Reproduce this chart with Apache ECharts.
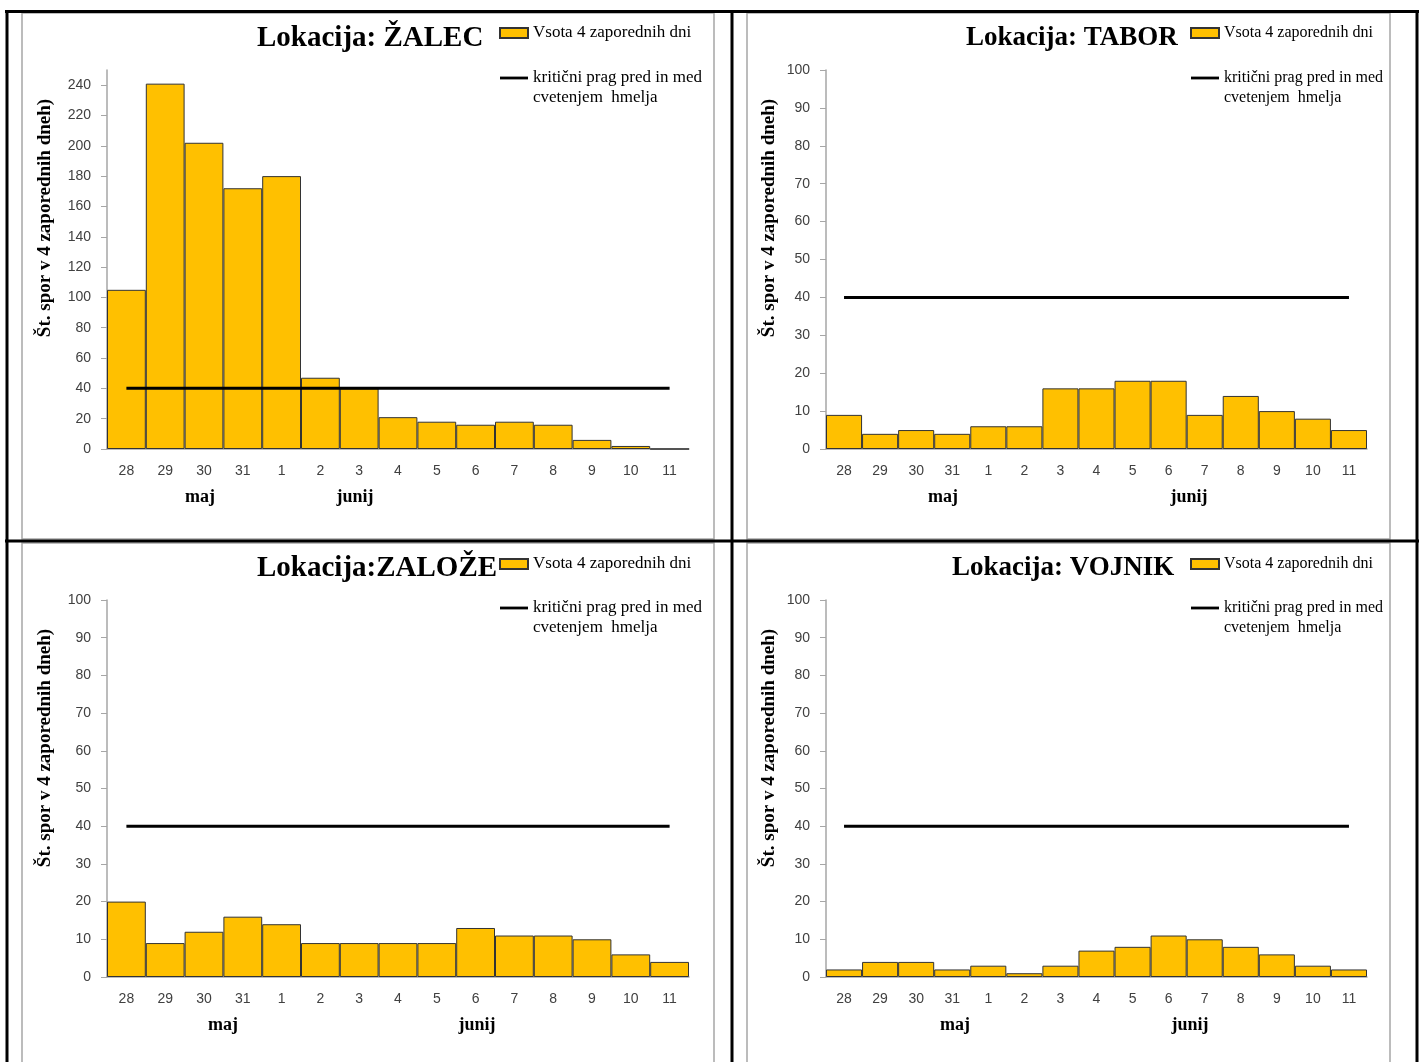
<!DOCTYPE html>
<html>
<head>
<meta charset="utf-8">
<script src="https://cdn.jsdelivr.net/npm/echarts@6/dist/echarts.min.js"></script>
<style>
  html, body { margin: 0; padding: 0; background: #fff; }
  #chart { width: 1420px; height: 1062px; }
</style>
</head>
<body>
<div id="chart"></div>
<script>
// ---- data ----
const categories = ['28', '29', '30', '31', '1', '2', '3', '4', '5', '6', '7', '8', '9', '10', '11'];
const zalecValues  = [105, 241, 202, 172, 180, 47, 40, 21, 18, 16, 18, 16, 6, 2, 0];
const taborValues  = [9, 4, 5, 4, 6, 6, 16, 16, 18, 18, 9, 14, 10, 8, 5];
const zalozeValues = [20, 9, 12, 16, 14, 9, 9, 9, 9, 13, 11, 11, 10, 6, 4];
const vojnikValues = [2, 4, 4, 2, 3, 1, 3, 7, 8, 11, 10, 8, 6, 3, 2];
const thresholdValues = [40, 40, 40, 40, 40, 40, 40, 40, 40, 40, 40, 40, 40, 40, 40];
const zalecTicks = [0, 20, 40, 60, 80, 100, 120, 140, 160, 180, 200, 220, 240];
const titles = ['Lokacija: ŽALEC', 'Lokacija: TABOR', 'Lokacija:ZALOŽE', 'Lokacija: VOJNIK'];
const barName = 'Vsota 4 zaporednih dni';
const lineName = 'kritični prag pred in med\ncvetenjem  hmelja';
const yAxisName = 'Št. spor v 4 zaporednih dneh)';
const monthLabels = ['maj', 'junij'];

// ---- layout ----
const panels = [
  { values: zalecValues,  grid: { left: 107, top: 70,  width: 582, height: 379 }, max: 250, interval: 20, ticks: zalecTicks,
    title: { left: 257, top: 24, size: 29 }, legend: { left: 499, top: 23, size: 17, gap: 5 },
    yName: { x: 45, y: 218 }, months: [{ x: 200, y: 497 }, { x: 355, y: 497 }] },
  { values: taborValues,  grid: { left: 826, top: 70,  width: 541, height: 379 }, max: 100, interval: 10,
    title: { left: 966, top: 25, size: 27 }, legend: { left: 1190, top: 23, size: 16, gap: 5 },
    yName: { x: 769, y: 218 }, months: [{ x: 943, y: 497 }, { x: 1189, y: 497 }] },
  { values: zalozeValues, grid: { left: 107, top: 600, width: 582, height: 377 }, max: 100, interval: 10,
    title: { left: 257, top: 554, size: 29 }, legend: { left: 499, top: 554, size: 17, gap: 4 },
    yName: { x: 45, y: 748 }, months: [{ x: 223, y: 1025 }, { x: 477, y: 1025 }] },
  { values: vojnikValues, grid: { left: 826, top: 600, width: 541, height: 377 }, max: 100, interval: 10,
    title: { left: 952, top: 555, size: 27 }, legend: { left: 1190, top: 554, size: 16, gap: 4 },
    yName: { x: 769, y: 748 }, months: [{ x: 955, y: 1025 }, { x: 1190, y: 1025 }] }
];

const serif = 'Liberation Serif, Times New Roman, serif';
const sans = 'Liberation Sans, Arial, sans-serif';

const option = {
  backgroundColor: '#fff',
  animation: false,
  title: [], legend: [], grid: [], xAxis: [], yAxis: [], series: [], graphic: []
};

panels.forEach((p, i) => {
  option.title.push({
    text: titles[i], left: p.title.left, top: p.title.top, padding: 0,
    textStyle: { fontFamily: serif, fontWeight: 'bold', fontSize: p.title.size, color: '#000' }
  });
  option.legend.push({
    orient: 'vertical', left: p.legend.left, top: p.legend.top, padding: 0,
    itemWidth: 28, itemHeight: 10, itemGap: p.legend.gap, selectedMode: false,
    textStyle: { fontFamily: serif, fontSize: p.legend.size, color: '#000', lineHeight: 20 },
    // empty first line keeps the line icon level with the first text line
    formatter: name => (name === lineName ? '\n' + name : name),
    data: [
      { name: barName, icon: 'rect' },
      { name: lineName, icon: 'path://M0,0 L30,0 L30,3 L0,3 Z', itemStyle: { color: '#000' } }
    ]
  });
  option.grid.push(Object.assign({ containLabel: false }, p.grid));
  option.xAxis.push({
    type: 'category', gridIndex: i, data: categories, boundaryGap: true,
    axisLine: { lineStyle: { color: '#a6a6a6', width: 1.5 } },
    axisTick: { show: false },
    axisLabel: { interval: 0, margin: 15, fontFamily: sans, fontSize: 14, color: '#404040' },
    splitLine: { show: false }
  });
  const yAxis = {
    type: 'value', gridIndex: i, min: 0, max: p.max, interval: p.interval,
    axisLine: { show: true, lineStyle: { color: '#a6a6a6', width: 1.5 } },
    axisTick: { show: true, length: 6, lineStyle: { color: '#a6a6a6' } },
    axisLabel: { margin: 16, fontFamily: sans, fontSize: 14, color: '#404040' },
    splitLine: { show: false }
  };
  if (p.ticks) {
    yAxis.axisTick.customValues = p.ticks;
    yAxis.axisLabel.customValues = p.ticks;
  }
  option.yAxis.push(yAxis);
  option.series.push({
    type: 'bar', name: barName, xAxisIndex: i, yAxisIndex: i, data: p.values,
    barCategoryGap: '0%',
    itemStyle: { color: '#FFC000', borderColor: '#333333', borderWidth: 1 },
    z: 2
  });
  option.series.push({
    type: 'line', name: lineName, xAxisIndex: i, yAxisIndex: i, data: thresholdValues,
    symbol: 'none', showSymbol: false,
    lineStyle: { color: '#000', width: 3 }, itemStyle: { color: '#000' },
    z: 3
  });
  option.graphic.push({
    type: 'text', x: p.yName.x, y: p.yName.y, rotation: Math.PI / 2,
    style: { text: yAxisName, fontFamily: serif, fontWeight: 'bold', fontSize: 19, fill: '#000',
             align: 'center', verticalAlign: 'middle' }
  });
  p.months.forEach((m, k) => {
    option.graphic.push({
      type: 'text', x: m.x, y: m.y,
      style: { text: monthLabels[k], fontFamily: serif, fontWeight: 'bold', fontSize: 18, fill: '#000',
               align: 'center', verticalAlign: 'middle' }
    });
  });
});

// chart-area frames (grey) and table borders (black)
const frames = [[22, 13, 692, 526], [747, 13, 643, 526], [22, 543, 692, 540], [747, 543, 643, 540]];
frames.forEach(f => option.graphic.push({
  type: 'rect', shape: { x: f[0], y: f[1], width: f[2], height: f[3] },
  style: { fill: 'none', stroke: '#a6a6a6', lineWidth: 1.5 }, silent: true
}));
const borders = [[5, 11.5, 1419, 11.5], [7, 10, 7, 1062], [732, 10, 732, 1062], [1417, 10, 1417, 1062], [5, 541, 1419, 541]];
borders.forEach(b => option.graphic.push({
  type: 'line', shape: { x1: b[0], y1: b[1], x2: b[2], y2: b[3] },
  style: { stroke: '#000', lineWidth: 3 }, silent: true
}));

const chart = echarts.init(document.getElementById('chart'), null, { renderer: 'canvas' });
chart.setOption(option);
</script>
</body>
</html>
